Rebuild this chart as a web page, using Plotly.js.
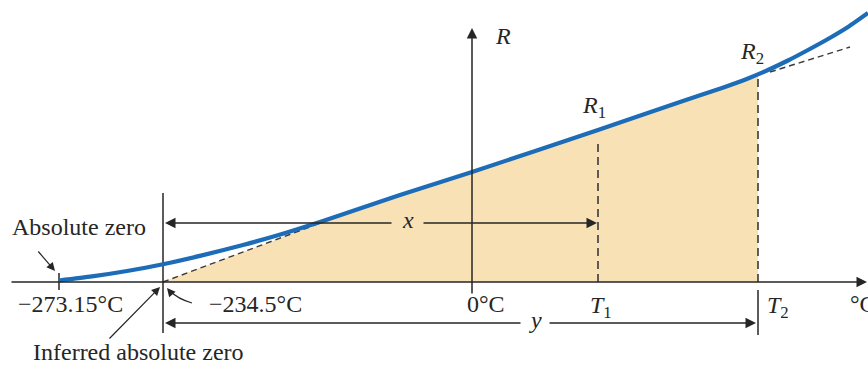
<!DOCTYPE html>
<html>
<head>
<meta charset="utf-8">
<script src="https://cdn.plot.ly/plotly-3.0.1.min.js"></script>
<style>html,body{margin:0;padding:0;background:#fff;}#chart{width:868px;height:369px;}</style>
</head>
<body>
<div id="chart"></div>
<script>
// Schematic temperature axis (x) and resistance (y), origin at 0 °C
const curveT = [-413, -380, -345, -309, -270, -229, -190, -149, -72, 0, 126, 208, 250, 276, 296, 316, 336, 356, 376, 396];
const curveR = [1.5, 5.6, 11, 17.8, 26.6, 37, 48, 61, 87, 110, 152, 180, 194, 203.5, 212, 221.5, 232, 243, 255, 269];

const absZeroT = -413;
const inferredZeroT = -309;
const zeroT = 0;
const T1 = 126;
const T2 = 286;
const R1 = 152;
const R2 = 207;
const linearJoinT = -149;   // where straight-line approximation meets curve
const linearJoinR = 60;
const extT = [298, 378];    // dashed extension beyond R2
const extR = [210, 235];

const fillT = [-309, -149, -72, 0, 126, 208, 250, 286, 286, -309];
const fillR = [0, 60, 87, 110, 152, 180, 194, 207, 0, 0];

const labelText = ['Absolute zero', '\u2212273.15\u00b0C', '\u2212234.5\u00b0C', 'Inferred absolute zero',
  '0\u00b0C', '<i>T</i><sub>1</sub>', '<i>T</i><sub>2</sub>', '\u00b0C', '<i>x</i>', '<i>y</i>',
  '<i>R</i>', '<i>R</i><sub>1</sub>', '<i>R</i><sub>2</sub>'];

const ink = '#262626';
const dash = {color: '#3a3a3a', width: 1.4, dash: '6px,4px'};
const vdash = {color: '#3a3a3a', width: 1.6, dash: '8px,5px'};
const solid = {color: ink, width: 1.5};

const traces = [
  {x: fillT, y: fillR, mode: 'lines', fill: 'toself', fillcolor: '#f8e1b5', line: {width: 0}, hoverinfo: 'skip'},
  {x: [inferredZeroT, linearJoinT], y: [0, linearJoinR], mode: 'lines', line: dash},
  {x: extT, y: extR, mode: 'lines', line: dash},
  {x: [T1, T1], y: [0, R1 - 10], mode: 'lines', line: vdash},
  {x: [T2, T2], y: [0, R2], mode: 'lines', line: vdash},
  {x: [T2, T2], y: [-8, -53], mode: 'lines', line: solid},
  {x: [inferredZeroT, inferredZeroT], y: [89, -51], mode: 'lines', line: solid},
  {x: [absZeroT, absZeroT], y: [9, -8], mode: 'lines', line: solid},
  {x: curveT, y: curveR, mode: 'lines', line: {color: '#1c6cb8', width: 4.2, shape: 'spline', smoothing: 0.6}}
];

function arrow(xTip, yTip, xTail, yTail, extra) {
  return Object.assign({x: xTip, y: yTip, ax: xTail, ay: yTail, xref: 'x', yref: 'y', axref: 'x', ayref: 'y',
    text: '', showarrow: true, arrowhead: 2, arrowsize: 1.4, arrowwidth: 1.5, arrowcolor: ink, standoff: 0, startstandoff: 0}, extra || {});
}

const font = {family: 'Liberation Serif', size: 24, color: ink};
function label(i, x, y, xanchor) {
  return {x: x, y: y, xref: 'x', yref: 'y', text: labelText[i], showarrow: false, font: font,
    xanchor: xanchor || 'center', yanchor: 'middle'};
}

const annotations = [
  arrow(395, 0, -462, 0),               // temperature axis
  arrow(zeroT, 254, zeroT, -13),        // R axis
  arrow(inferredZeroT + 2, 59, -79, 59),
  arrow(T1 - 1, 59, -50, 59),
  arrow(inferredZeroT + 2, -41, 50, -41),
  arrow(T2 - 2, -41, 76, -41),
  arrow(absZeroT - 4, 11, -435, 32, {arrowwidth: 1.2}),
  arrow(inferredZeroT - 3, -5, -364, -58, {arrowwidth: 1.2}),
  arrow(inferredZeroT + 4, -6, inferredZeroT + 9, -12, {arrowwidth: 1.2}),
  label(0, -393, 55),
  label(1, -402, -22),
  label(2, -217, -22),
  label(3, -334, -70),
  label(4, 14, -22),
  label(5, 116, -25, 'left'),
  label(6, 293, -25, 'left'),
  label(7, 376, -22, 'left'),
  label(8, -64, 62),
  label(9, 63, -38),
  label(10, 21, 246, 'left'),
  label(11, 108, 175, 'left'),
  label(12, 266, 229, 'left')
];

const shapes = [
  {type: 'path', xref: 'x', yref: 'y', path: 'M -280 -21 Q -294 -17 -302 -9', line: {color: ink, width: 1.2}}
];

const layout = {
  width: 868, height: 369, margin: {l: 0, r: 0, t: 0, b: 0},
  paper_bgcolor: '#fff', plot_bgcolor: '#fff', showlegend: false,
  xaxis: {range: [-472, 396], visible: false, fixedrange: true},
  yaxis: {range: [-87, 282], visible: false, fixedrange: true},
  annotations: annotations, shapes: shapes
};

Plotly.newPlot('chart', traces, layout, {displayModeBar: false, staticPlot: true});
</script>
</body>
</html>
